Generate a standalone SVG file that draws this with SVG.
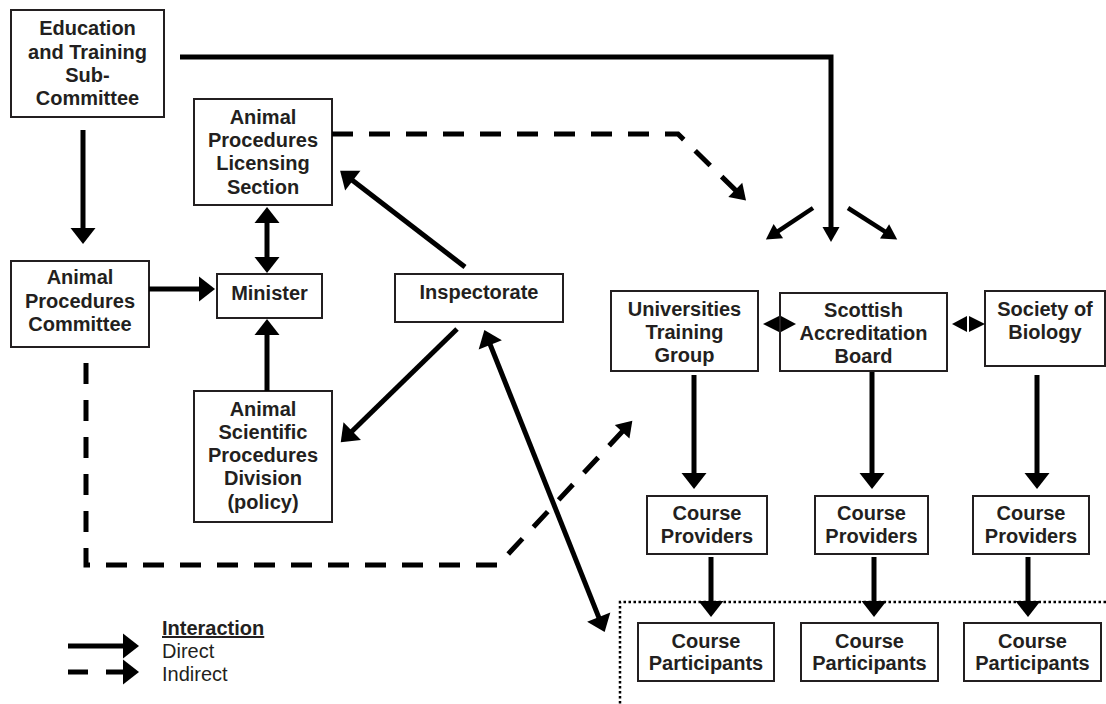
<svg xmlns="http://www.w3.org/2000/svg" width="1106" height="704" viewBox="0 0 1106 704">
<style>
.box{fill:#fff;stroke:#231f20;stroke-width:2}
.t{font-family:"Liberation Sans",Arial,sans-serif;font-size:20px;font-weight:bold;fill:#231f20;text-anchor:middle}
.lg{font-family:"Liberation Sans",Arial,sans-serif;font-size:20px;fill:#231f20}
.c{fill:none;stroke:#000;stroke-width:5}
.cs{fill:none;stroke:#000;stroke-width:4.5}
.d{fill:none;stroke:#000;stroke-width:5;stroke-dasharray:21 16}
.dot{fill:none;stroke:#000;stroke-width:2.5;stroke-dasharray:2.5 2.5}
</style>
<defs>
<marker id="ah" markerUnits="userSpaceOnUse" markerWidth="18" markerHeight="26" refX="1" refY="12.5" orient="auto-start-reverse" overflow="visible">
<path d="M0,0 L16,12.5 L0,25 Z" fill="#000"/>
</marker>
<marker id="as" markerUnits="userSpaceOnUse" markerWidth="16" markerHeight="18" refX="1" refY="8.5" orient="auto" overflow="visible">
<path d="M0,0 L15,8.5 L0,17 Z" fill="#000"/>
</marker>
<marker id="ad" markerUnits="userSpaceOnUse" markerWidth="16" markerHeight="22" refX="1" refY="10" orient="auto" overflow="visible">
<path d="M0,0 L15,10 L0,20 Z" fill="#000"/>
</marker>
</defs>

<g id="education">
<rect class="box" x="11" y="10" width="153" height="107"/>
<text class="t" x="87.5" y="35">Education</text>
<text class="t" x="87.5" y="59">and Training</text>
<text class="t" x="87.5" y="82">Sub-</text>
<text class="t" x="87.5" y="105">Committee</text>
</g>
<g id="licensing">
<rect class="box" x="194" y="99" width="138" height="106"/>
<text class="t" x="263" y="124">Animal</text>
<text class="t" x="263" y="147">Procedures</text>
<text class="t" x="263" y="170">Licensing</text>
<text class="t" x="263" y="194">Section</text>
</g>
<g id="apc">
<rect class="box" x="11" y="261" width="138" height="86"/>
<text class="t" x="80" y="284">Animal</text>
<text class="t" x="80" y="308">Procedures</text>
<text class="t" x="80" y="331">Committee</text>
</g>
<g id="minister">
<rect class="box" x="217" y="274" width="105" height="44"/>
<text class="t" x="269.5" y="300">Minister</text>
</g>
<g id="inspectorate">
<rect class="box" x="395" y="274" width="168" height="48"/>
<text class="t" x="479" y="299">Inspectorate</text>
</g>
<g id="aspd">
<rect class="box" x="194" y="391" width="138" height="131"/>
<text class="t" x="263" y="416">Animal</text>
<text class="t" x="263" y="439">Scientific</text>
<text class="t" x="263" y="462">Procedures</text>
<text class="t" x="263" y="485">Division</text>
<text class="t" x="263" y="509">(policy)</text>
</g>
<g id="utg">
<rect class="box" x="611" y="291" width="147" height="80"/>
<text class="t" x="684.5" y="316">Universities</text>
<text class="t" x="684.5" y="339">Training</text>
<text class="t" x="684.5" y="362">Group</text>
</g>
<g id="sab">
<rect class="box" x="780" y="293" width="167" height="78"/>
<text class="t" x="863.5" y="317">Scottish</text>
<text class="t" x="863.5" y="340">Accreditation</text>
<text class="t" x="863.5" y="363">Board</text>
</g>
<g id="sob">
<rect class="box" x="985" y="291" width="120" height="75"/>
<text class="t" x="1045" y="316">Society of</text>
<text class="t" x="1045" y="339">Biology</text>
</g>
<g id="cp1">
<rect class="box" x="647" y="496" width="120" height="58"/>
<text class="t" x="707" y="520">Course</text>
<text class="t" x="707" y="543">Providers</text>
</g>
<g id="cp2">
<rect class="box" x="815" y="496" width="113" height="58"/>
<text class="t" x="871.5" y="520">Course</text>
<text class="t" x="871.5" y="543">Providers</text>
</g>
<g id="cp3">
<rect class="box" x="973" y="496" width="116" height="58"/>
<text class="t" x="1031" y="520">Course</text>
<text class="t" x="1031" y="543">Providers</text>
</g>
<g id="cpart1">
<rect class="box" x="638" y="623" width="136" height="58"/>
<text class="t" x="706" y="648">Course</text>
<text class="t" x="706" y="670">Participants</text>
</g>
<g id="cpart2">
<rect class="box" x="801" y="623" width="137" height="58"/>
<text class="t" x="869.5" y="648">Course</text>
<text class="t" x="869.5" y="670">Participants</text>
</g>
<g id="cpart3">
<rect class="box" x="964" y="623" width="137" height="58"/>
<text class="t" x="1032.5" y="648">Course</text>
<text class="t" x="1032.5" y="670">Participants</text>
</g>

<g id="connectors">
<path class="c" d="M180,57 H831 V228" marker-end="url(#as)"/>
<path class="cs" d="M813,208 L777.5,231.7" marker-end="url(#as)"/>
<path class="cs" d="M848,208 L885.4,231.9" marker-end="url(#as)"/>
<path class="d" d="M332,134 H678 L736,190.6" marker-end="url(#ad)"/>
<path class="c" d="M83,130 V229" marker-end="url(#ah)"/>
<path class="c" d="M149,289 H200" marker-end="url(#ah)"/>
<path class="c" d="M267,222 V258" marker-start="url(#ah)" marker-end="url(#ah)"/>
<path class="c" d="M267,391 V334" marker-end="url(#ah)"/>
<path class="c" d="M465,267 L352,180" marker-end="url(#ah)"/>
<path class="c" d="M457,329 L351.5,431.8" marker-end="url(#ah)"/>
<path class="d" d="M86,363 V565 H498 L622.8,431" marker-end="url(#ad)"/>
<path class="c" d="M489.9,343.9 L599.1,618.1" marker-start="url(#ah)" marker-end="url(#ah)"/>
<path class="c" d="M694,375 V474" marker-end="url(#ah)"/>
<path class="c" d="M872,372 V474" marker-end="url(#ah)"/>
<path class="c" d="M1037,375 V474" marker-end="url(#ah)"/>
<path class="dot" d="M1106,602 H620 V704"/>
<path class="c" d="M711,557 V602" marker-end="url(#ah)"/>
<path class="c" d="M874,557 V602" marker-end="url(#ah)"/>
<path class="c" d="M1028,557 V602" marker-end="url(#ah)"/>
<path d="M763,324 L779,316 L779,332 Z M781,316 L796,324 L781,332 Z" fill="#000"/>
<path d="M952,324 L967,316 L967,332 Z M969,316 L985,324 L969,332 Z" fill="#000"/>
</g>

<g id="legend">
<path class="c" d="M68,646 H124" marker-end="url(#ah)"/>
<path class="c" d="M68,672 H124" stroke-dasharray="20 18" marker-end="url(#ah)"/>
<text class="lg" x="162" y="635" font-weight="bold" text-decoration="underline">Interaction</text>
<text class="lg" x="162" y="658">Direct</text>
<text class="lg" x="162" y="681">Indirect</text>
</g>
</svg>
